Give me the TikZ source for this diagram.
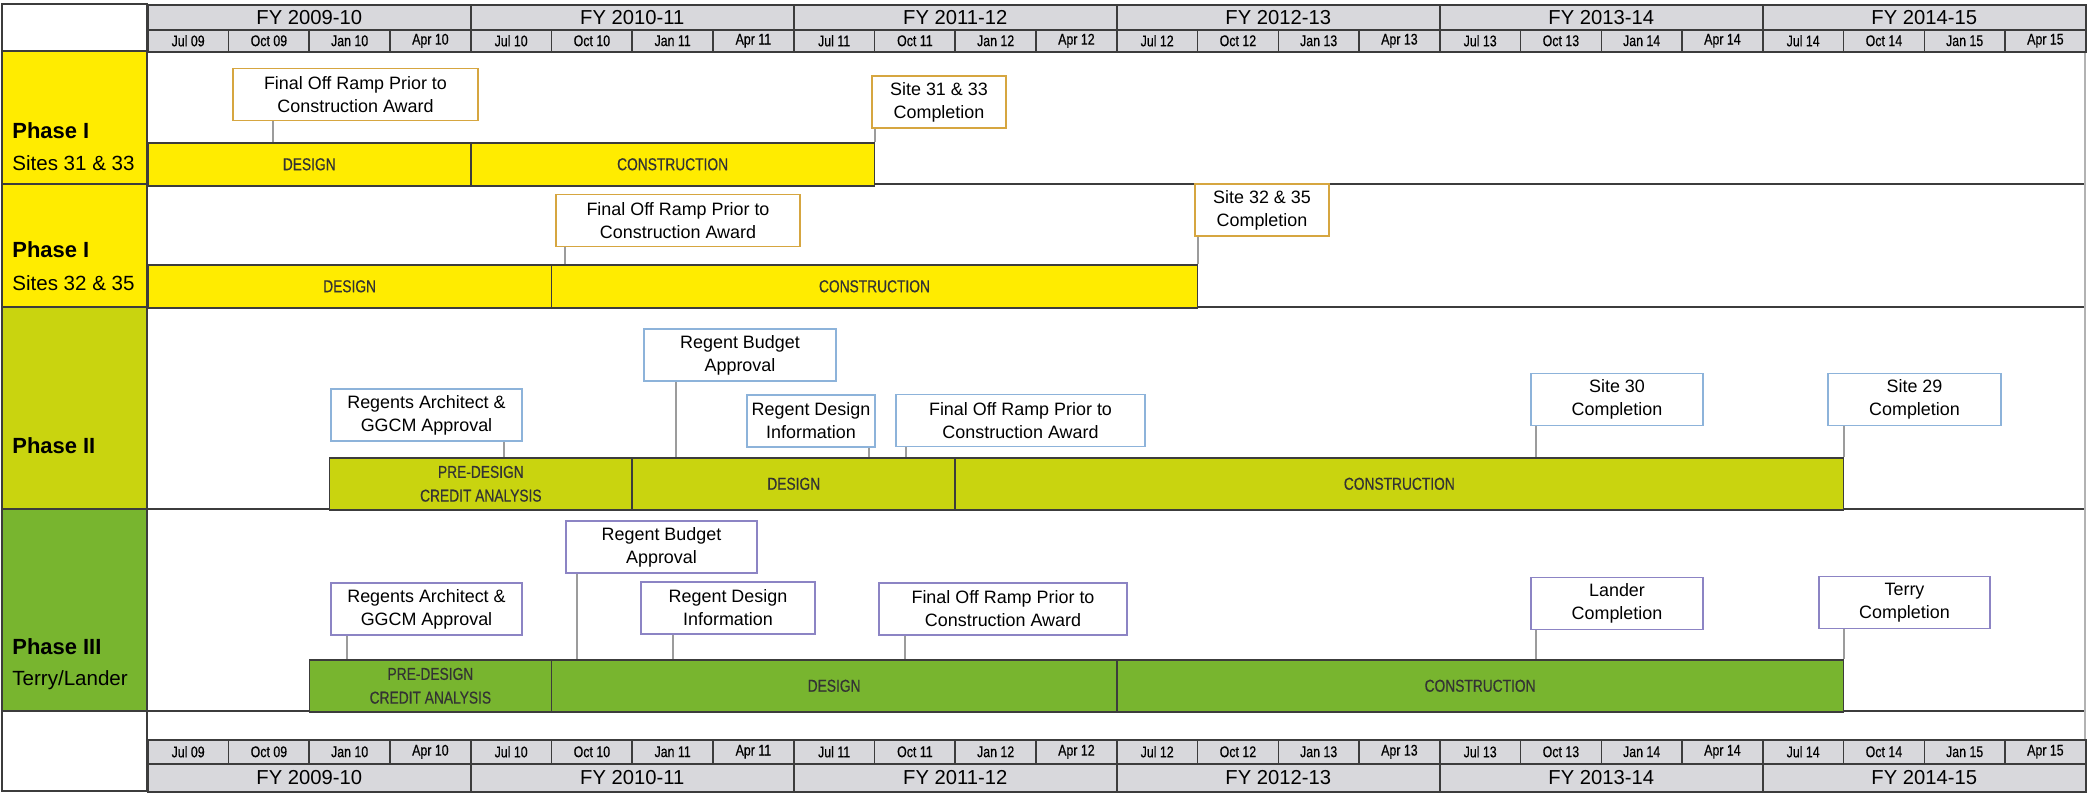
\documentclass[tikz,border=0pt]{standalone}
\usepackage{fontspec}
\setmainfont{Liberation Sans}
\newfontfamily\narrowfont[FakeStretch=0.8, FakeBold=0.4]{Liberation Sans}
\definecolor{phaseone}{HTML}{FFEC00}
\definecolor{phasetwo}{HTML}{C9D40F}
\definecolor{phasethree}{HTML}{78B52F}
\definecolor{headgray}{HTML}{D8D8DC}
\definecolor{gridcolor}{HTML}{3C3C3C}
\definecolor{goldline}{HTML}{D6A640}
\definecolor{blueline}{HTML}{8DB3DA}
\definecolor{purpleline}{HTML}{8C84C4}
\definecolor{tickgray}{HTML}{9C9C9C}
\tikzset{
  gridline/.style={draw=gridcolor, line width=0.9pt},
  headcell/.style={gridline, fill=headgray, anchor=north west, inner sep=0pt},
  milestone/.style={draw=#1, line width=1pt, fill=white, inner sep=0pt, align=center,
    minimum height=1.04cm, font=\fontsize{10.2}{13}\selectfont},
  taskbar/.style={gridline, inner sep=0pt, align=center, anchor=north west,
    font=\narrowfont\fontsize{9.8}{13.5}\selectfont, text=black!80},
  tick/.style={draw=tickgray, line width=0.9pt},
  phaselabel/.style={anchor=west, inner sep=0pt, font=\bfseries\fontsize{12.5}{14}\selectfont},
  sitelabel/.style={anchor=west, inner sep=0pt, font=\fontsize{11.7}{14}\selectfont}
}
% name, quarter start, quarter end, top, height, fill, text
\newcommand{\ganttbar}[7]{\node[taskbar, fill=#6, minimum width={(#3-#2)*1.615cm},
  minimum height={#5*0.02cm}] (#1) at ({147+80.75*#2},#4) {#7};}
\begin{document}
\begin{tikzpicture}[x=0.02cm, y=-0.02cm]
\useasboundingbox (0,0) rectangle (2089,794);
% left column
\draw[gridline, fill=white] (2,4) rectangle (147,51);
\draw[gridline, fill=phaseone] (2,51) rectangle (147,184);
\draw[gridline, fill=phaseone] (2,184) rectangle (147,307);
\draw[gridline, fill=phasetwo] (2,307) rectangle (147,509);
\draw[gridline, fill=phasethree] (2,509) rectangle (147,711);
\draw[gridline, fill=white] (2,711) rectangle (147,791);
\foreach \y in {184,307,509,711} \draw[gridline] (147,\y) -- (2085,\y);
\draw[draw=gray!60, line width=0.6pt] (2085,4) -- (2085,791);
\node[phaselabel] (p1) at (12,131) {Phase I};
\node[sitelabel] (s1) at (12,163) {Sites 31 \& 33};
\node[phaselabel] (p2) at (12,250) {Phase I};
\node[sitelabel] (s2) at (12,283) {Sites 32 \& 35};
\node[phaselabel] (p3) at (12,446) {Phase II};
\node[phaselabel] (p4) at (12,647) {Phase III};
\node[sitelabel] (s4) at (12,680) {Terry/Lander};
% fiscal years and quarters, top and bottom
\foreach \fy [count=\i from 0] in {2009-10,2010-11,2011-12,2012-13,2013-14,2014-15} {
  \node[headcell, minimum width=6.46cm, minimum height=0.5cm, font=\fontsize{11.5}{12}\selectfont]
    (fytop\i) at ({147+323*\i},4) {FY \fy};
  \node[headcell, minimum width=6.46cm, minimum height=0.56cm, font=\fontsize{11.5}{12}\selectfont]
    (fybot\i) at ({147+323*\i},763) {FY \fy};
}
\foreach \m [count=\j from 0] in {Jul 09,Oct 09,Jan 10,Apr 10,Jul 10,Oct 10,Jan 11,Apr 11,
    Jul 11,Oct 11,Jan 12,Apr 12,Jul 12,Oct 12,Jan 13,Apr 13,
    Jul 13,Oct 13,Jan 14,Apr 14,Jul 14,Oct 14,Jan 15,Apr 15} {
  \node[headcell, minimum width=1.615cm, minimum height=0.44cm, font=\narrowfont\fontsize{8.8}{9}\selectfont]
    (mtop\j) at ({147+80.75*\j},29) {\m};
  \node[headcell, minimum width=1.615cm, minimum height=0.48cm, font=\narrowfont\fontsize{8.8}{9}\selectfont]
    (mbot\j) at ({147+80.75*\j},739) {\m};
}
% Phase I, sites 31 & 33
\node[milestone=goldline, minimum width=4.9cm] (r1ramp) at (355.5,94.5) {Final Off Ramp Prior to\\Construction Award};
\node[milestone=goldline, minimum width=2.68cm] (r1done) at (939,102) {Site 31 \& 33\\Completion};
\coordinate (k1a) at (273,142);
\draw[tick] (r1ramp.south -| k1a) -- (k1a);
\ganttbar{r1design}{0}{4}{142}{43}{phaseone}{DESIGN}
\ganttbar{r1build}{4}{9}{142}{43}{phaseone}{CONSTRUCTION}
\draw[tick] (r1done.south -| r1build.north east) -- (r1build.north east);
% Phase I, sites 32 & 35
\node[milestone=goldline, minimum width=4.88cm] (r2ramp) at (678,220.5) {Final Off Ramp Prior to\\Construction Award};
\node[milestone=goldline, minimum width=2.68cm] (r2done) at (1262,210) {Site 32 \& 35\\Completion};
\coordinate (k2a) at (565,264);
\draw[tick] (r2ramp.south -| k2a) -- (k2a);
\ganttbar{r2design}{0}{5}{264}{43}{phaseone}{DESIGN}
\ganttbar{r2build}{5}{13}{264}{43}{phaseone}{CONSTRUCTION}
\draw[tick] (r2done.south -| r2build.north east) -- (r2build.north east);
% Phase II
\node[milestone=blueline, minimum width=3.82cm] (r3arch) at (426.5,415) {Regents Architect \&\\GGCM Approval};
\node[milestone=blueline, minimum width=3.84cm] (r3budget) at (740,355) {Regent Budget\\Approval};
\node[milestone=blueline, minimum width=2.56cm] (r3info) at (811,421) {Regent Design\\Information};
\node[milestone=blueline, minimum width=4.98cm] (r3ramp) at (1020.5,420.5) {Final Off Ramp Prior to\\Construction Award};
\node[milestone=blueline, minimum width=3.44cm] (r3site30) at (1617,399.5) {Site 30\\Completion};
\node[milestone=blueline, minimum width=3.46cm] (r3site29) at (1914.5,399.5) {Site 29\\Completion};
\coordinate (k3a) at (504,457);
\coordinate (k3b) at (676,457);
\coordinate (k3c) at (869,457);
\coordinate (k3d) at (906,457);
\coordinate (k3e) at (1536,457);
\draw[tick] (r3arch.south -| k3a) -- (k3a);
\draw[tick] (r3budget.south -| k3b) -- (k3b);
\draw[tick] (r3info.south -| k3c) -- (k3c);
\draw[tick] (r3ramp.south -| k3d) -- (k3d);
\draw[tick] (r3site30.south -| k3e) -- (k3e);
\ganttbar{r3pre}{2.25}{6}{457}{52}{phasetwo}{PRE-DESIGN\\CREDIT ANALYSIS}
\ganttbar{r3design}{6}{10}{457}{52}{phasetwo}{DESIGN}
\ganttbar{r3build}{10}{21}{457}{52}{phasetwo}{CONSTRUCTION}
\draw[tick] (r3site29.south -| r3build.north east) -- (r3build.north east);
% Phase III
\node[milestone=purpleline, minimum width=3.82cm] (r4arch) at (426.5,609) {Regents Architect \&\\GGCM Approval};
\node[milestone=purpleline, minimum width=3.82cm] (r4budget) at (661.5,547) {Regent Budget\\Approval};
\node[milestone=purpleline, minimum width=3.48cm] (r4info) at (728,608) {Regent Design\\Information};
\node[milestone=purpleline, minimum width=4.96cm] (r4ramp) at (1003,609) {Final Off Ramp Prior to\\Construction Award};
\node[milestone=purpleline, minimum width=3.44cm] (r4lander) at (1617,603.5) {Lander\\Completion};
\node[milestone=purpleline, minimum width=3.42cm] (r4terry) at (1904.5,602.5) {Terry\\Completion};
\coordinate (k4a) at (347,659);
\coordinate (k4b) at (577,659);
\coordinate (k4c) at (673,659);
\coordinate (k4d) at (905,659);
\coordinate (k4e) at (1536,659);
\draw[tick] (r4arch.south -| k4a) -- (k4a);
\draw[tick] (r4budget.south -| k4b) -- (k4b);
\draw[tick] (r4info.south -| k4c) -- (k4c);
\draw[tick] (r4ramp.south -| k4d) -- (k4d);
\draw[tick] (r4lander.south -| k4e) -- (k4e);
\ganttbar{r4pre}{2}{5}{659}{52}{phasethree}{PRE-DESIGN\\CREDIT ANALYSIS}
\ganttbar{r4design}{5}{12}{659}{52}{phasethree}{DESIGN}
\ganttbar{r4build}{12}{21}{659}{52}{phasethree}{CONSTRUCTION}
\draw[tick] (r4terry.south -| r4build.north east) -- (r4build.north east);
\end{tikzpicture}
\end{document}
